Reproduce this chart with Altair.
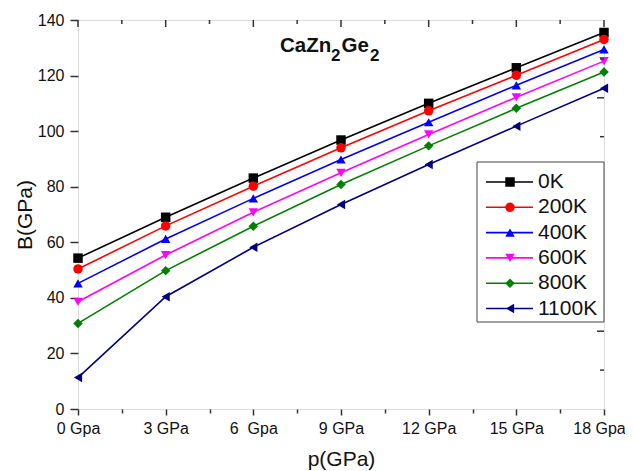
import json
import altair as alt
import pandas as pd

# ---- data ----
pressure = [0, 3, 6, 9, 12, 15, 18]
x_tick_labels = ["0 Gpa", "3 GPa", "6\u00a0\u00a0Gpa", "9 GPa", "12 GPa", "15 GPa", "18 Gpa"]
series = ["0K", "200K", "400K", "600K", "800K", "1100K"]
B_0K = [54.3, 69.0, 83.1, 96.8, 110.0, 122.8, 135.5]
B_200K = [50.4, 65.9, 80.2, 94.0, 107.3, 120.1, 133.0]
B_400K = [45.2, 61.2, 75.8, 89.8, 103.2, 116.5, 129.4]
B_600K = [38.6, 55.4, 70.8, 85.0, 98.8, 112.2, 125.2]
B_800K = [30.8, 49.8, 65.8, 80.8, 94.7, 108.2, 121.3]
B_1100K = [11.3, 40.4, 58.2, 73.6, 88.0, 101.8, 115.4]
colors = ["#000000", "#ff0000", "#0000ff", "#ff00ff", "#008000", "#000080"]
shapes = ["square", "circle", "triangle-up", "triangle-down", "diamond", "triangle-left"]

values = [B_0K, B_200K, B_400K, B_600K, B_800K, B_1100K]
rows = []
for s, vals in zip(series, values):
    for p, b in zip(pressure, vals):
        rows.append({"p": p, "B": b, "T": s})
df = pd.DataFrame(rows)

W, H = 526, 389
FONT = "Liberation Sans"
AX = "#333333"
MSIZE = 90

xscale = alt.Scale(domain=[0, 18], nice=False, zero=False)
yscale = alt.Scale(domain=[0, 140], nice=False)
cscale = alt.Scale(domain=series, range=colors)
sscale = alt.Scale(domain=series, range=shapes)

label_arr = json.dumps(x_tick_labels)
x_axis = alt.Axis(
    values=[i * 1.5 for i in range(13)],
    labelExpr=f"datum.value % 3 === 0 ? {label_arr}[round(datum.value/3)] : ''",
    tickSize={"condition": {"test": "datum.value % 3 === 0", "value": 6}, "value": 4},
    labelOffset={"condition": {"test": "datum.value === 18", "value": -5}, "value": 0},
    labelPadding=5, labelFlush=False, labelOverlap=False,
    labelFontSize=16, labelFont=FONT, labelColor="#111",
    title="p(GPa)", titleFontSize=21, titleFont=FONT, titleFontWeight="normal",
    titleBaseline="alphabetic", titleY=56, titleColor="#111",
    domain=False, tickColor=AX, tickWidth=1.5, grid=False,
)
y_axis = alt.Axis(
    values=list(range(0, 141, 10)),
    labelExpr="datum.value % 20 === 0 ? datum.label : ''",
    tickSize={"condition": {"test": "datum.value % 20 === 0", "value": 8}, "value": 4},
    labelPadding=6, labelFlush=False, labelOverlap=False,
    labelFontSize=16, labelFont=FONT, labelColor="#111",
    title="B(GPa)", titleFontSize=21, titleFont=FONT, titleFontWeight="normal",
    titleBaseline="alphabetic", titleX=-47, titleAngle=-90, titleColor="#111",
    domain=False, tickColor=AX, tickWidth=1.5, grid=False,
)

base = alt.Chart(df)
lines = base.mark_line(strokeWidth=1.6).encode(
    x=alt.X("p:Q", scale=xscale, axis=x_axis),
    y=alt.Y("B:Q", scale=yscale, axis=y_axis),
    color=alt.Color("T:N", scale=cscale, legend=None),
    detail="T:N",
)
points = base.mark_point(filled=True, size=MSIZE, opacity=1).encode(
    x="p:Q",
    y="B:Q",
    color=alt.Color("T:N", scale=cscale, legend=None),
    shape=alt.Shape("T:N", scale=sscale, legend=None),
)

# inward ticks on the top and right frame
top_major = pd.DataFrame({"p": [0, 3, 6, 9, 12, 15, 18]})
top_minor = pd.DataFrame({"p": [1.5, 4.5, 7.5, 10.5, 13.5, 16.5]})
right_major = pd.DataFrame({"B": [28, 56, 84, 112]})
right_minor = pd.DataFrame({"B": [14, 42, 70, 98, 126]})
tick_style = dict(color=AX, strokeWidth=1.5)
t1 = alt.Chart(top_major).mark_rule(**tick_style).encode(x="p:Q", y=alt.value(0), y2=alt.value(7))
t2 = alt.Chart(top_minor).mark_rule(**tick_style).encode(x="p:Q", y=alt.value(0), y2=alt.value(4))
r1 = alt.Chart(right_major).mark_rule(**tick_style).encode(y="B:Q", x=alt.value(W), x2=alt.value(W - 7))
r2 = alt.Chart(right_minor).mark_rule(**tick_style).encode(y="B:Q", x=alt.value(W), x2=alt.value(W - 4))

# legend (drawn manually: line + marker + text inside a box)
leg = pd.DataFrame({"T": series, "i": list(range(len(series)))})
legbase = alt.Chart(leg).transform_calculate(ly="162 + 25.3*datum.i")
box = alt.Chart(pd.DataFrame({"a": [0]})).mark_rect(
    fill="white", stroke="#444", strokeWidth=1
).encode(x=alt.value(399), x2=alt.value(W), y=alt.value(142), y2=alt.value(302))
leg_lines = legbase.mark_rule(strokeWidth=1.6).encode(
    x=alt.value(408), x2=alt.value(455),
    y=alt.Y("ly:Q", scale=None),
    color=alt.Color("T:N", scale=cscale, legend=None),
)
leg_pts = legbase.mark_point(filled=True, size=MSIZE, opacity=1).encode(
    x=alt.value(432),
    y=alt.Y("ly:Q", scale=None),
    color=alt.Color("T:N", scale=cscale, legend=None),
    shape=alt.Shape("T:N", scale=sscale, legend=None),
)
leg_txt = legbase.mark_text(align="left", baseline="middle", fontSize=21, font=FONT, color="#111").encode(
    x=alt.value(460),
    y=alt.Y("ly:Q", scale=None),
    text="T:N",
)

# compound title CaZn2Ge2
title_parts = pd.DataFrame({
    "t": ["CaZn", "2", "Ge", "2"],
    "px": [202, 253, 263.5, 292],
    "py": [31.7, 40.5, 31.7, 40.5],
    "fs": [20.5, 17, 20.5, 17],
})
title_txt = alt.Chart(title_parts).mark_text(
    align="left", baseline="alphabetic", font=FONT, fontWeight="bold", color="#111"
).encode(
    x=alt.X("px:Q", scale=None),
    y=alt.Y("py:Q", scale=None),
    text="t:N",
    size=alt.Size("fs:Q", scale=None, legend=None),
)

chart = alt.layer(
    lines, points, t1, t2, r1, r2, box, leg_lines, leg_pts, leg_txt, title_txt
).properties(
    width=W, height=H,
    padding={"left": 70, "top": 12, "right": 21, "bottom": 62},
    autosize="none",
).configure_view(stroke=AX, strokeWidth=2).configure(background="white")

chart.save("out.html", embed_options={"renderer": "svg", "actions": False})
